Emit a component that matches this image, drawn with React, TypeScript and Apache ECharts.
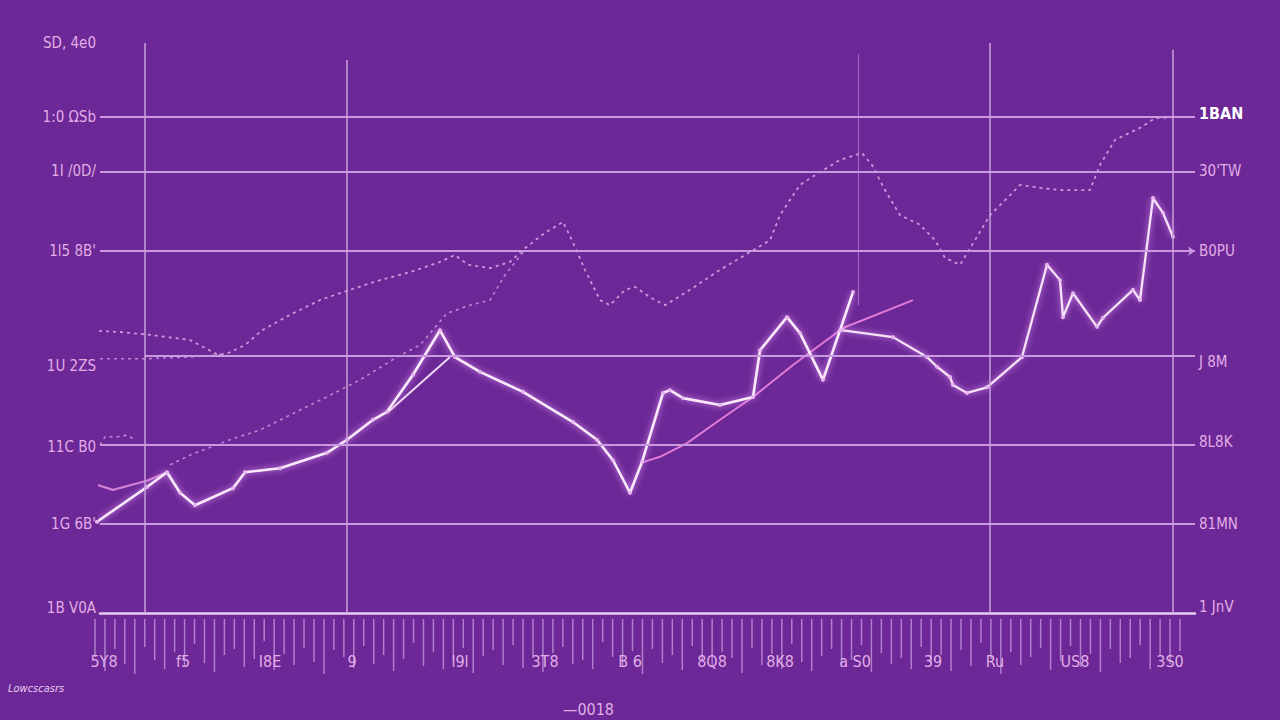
import React, { useEffect, useRef } from "react";
import * as echarts from "echarts";

// ---- axis ticks / labels ----
const yLeftValues = [100, 87, 77.5, 63.5, 43.3, 29.2, 15.6, 0.9];
const yLeftLabels = ["SD, 4e0", "1:0 ΩSb", "1I /0D/", "1l5 8B'", "1U 2ZS", "11C B0", "1G 6B'", "1B V0A"];
const yRightValues = [87.7, 77.5, 63.5, 44.0, 30.0, 15.6, 1.0];
const yRightLabels = ["1BAN", "30'TW", "B0PU", "J 8M", "8L8K", "81MN", "1 JnV"];
const xTickValues = [0.8, 16.6, 34, 50.4, 72, 89, 106, 122.4, 136, 151, 166.6, 179, 195, 214];
const xTickLabels = ["5Y8", "f5", "I8E", "9", "l9l", "3T8", "B 6", "8Q8", "8K8", "a S0", "39", "Ru", "US8", "3S0"];
const gridLevels = [87, 77.5, 63.5, 45.1, 29.5, 15.6];
const gridStarts = [0, 0, 0, 9, 0, 0];
const verticalLines = [9, 49.4, 178, 214.6];
const verticalTops = [100, 97, 100, 98.8];

// ---- series values [x, y] ----
const upperTrend: [number, number][] = [
  [-3, 49.6], [4, 49.3], [10, 48.8], [18, 47.9], [21, 46.5], [23.6, 45.3], [25.6, 45.6], [29, 47.0],
  [32.4, 49.6], [38, 52.3], [44, 54.9], [50, 56.7], [56, 58.4], [62, 59.8], [68, 61.6], [71, 62.8],
  [73.6, 61.1], [78, 60.5], [82, 61.6], [85, 64.0], [89, 66.7], [92.6, 68.6], [94.4, 65.4], [97, 60.2],
  [100, 54.9], [102, 54.0], [105, 56.7], [107, 57.2], [110, 55.4], [113, 54.0], [118, 56.7], [124, 60.2],
  [129, 62.8], [134, 65.4], [136, 69.8], [140, 75.1], [143, 76.8], [148, 79.5], [152.4, 80.7], [154.4, 78.6],
  [157, 74.2], [160, 69.8], [164, 68.1], [167, 65.4], [169, 62.3], [172, 61.1], [175, 65.4], [178, 69.8],
  [182, 73.3], [184, 75.1], [188, 74.6], [192, 74.2], [198, 74.2], [200, 78.6], [203, 83.0], [208, 85.1],
  [211, 86.8], [215, 87.0],
];
const lowerTrend: [number, number][] = [
  [14, 26.0], [18, 27.7], [26, 30.4], [32, 32.1], [40, 35.6], [46, 38.2], [52, 40.9], [59.4, 44.9],
  [64, 47.0], [69.4, 52.6], [74, 54.0], [78, 54.9], [81, 59.3], [84.6, 63.3],
];
const stubA: [number, number][] = [[0, 44.6], [9, 44.6], [18, 44.9], [25, 45.4]];
const stubB: [number, number][] = [[0, 29.5], [1, 30.9], [3.4, 30.9], [5.4, 31.2], [7, 30.4]];
const mainLine: [number, number][] = [
  [-0.6, 16.0], [9.4, 22.1], [13.4, 24.7], [16, 21.1], [19, 18.9], [26.6, 21.9], [29, 24.7], [36, 25.4],
  [45.4, 28.1], [49.4, 30.4], [54.6, 33.9], [57.4, 35.3], [62.6, 41.8], [68, 49.6], [71, 44.9], [76, 42.3],
  [84.6, 38.8], [94.6, 33.5], [99.4, 30.4], [102.6, 26.8], [106, 21.1], [108.4, 26.5], [112.6, 38.6], [114, 39.1],
  [116.6, 37.7], [124, 36.5], [130.6, 37.9], [132, 46.1], [137.4, 51.9], [140, 49.1], [144.6, 40.9], [148, 49.6],
  [150.6, 56.3],
];
const rightLine: [number, number][] = [
  [148.6, 49.6], [158.6, 48.4], [165.4, 44.9], [167.4, 43.2], [170, 41.4], [170.6, 40.0], [173.4, 38.6],
  [177.4, 39.6], [184.4, 44.9], [189.4, 61.1], [192, 58.4], [192.6, 51.9], [194.6, 56.1], [199.4, 50.2],
  [200.6, 51.8], [206.6, 56.7], [208, 54.9], [210.6, 72.8], [212.6, 70.2], [214.6, 66.0],
];
const pinkA: [number, number][] = [[-0.6, 22.5], [2.6, 21.6], [9.4, 23.2], [13.4, 24.7]];
const pinkB: [number, number][] = [[57.4, 35.1], [70, 44.9]];
const pinkC: [number, number][] = [
  [108, 26.3], [112, 27.4], [117.4, 29.8], [124, 33.9], [130.6, 37.9], [138.6, 43.5], [148.6, 50.0], [162.6, 54.9],
];
const volumeTicks = [
  38, 52, 30, 45, 55, 28, 41, 50, 33, 47, 25, 44, 53, 36, 30, 48, 40, 22, 51, 35,
  46, 29, 43, 55, 31, 38, 49, 27, 45, 36, 52, 40, 24, 47, 33, 50, 42, 29, 54, 37,
  31, 46, 26, 49, 39, 53, 34, 28, 45, 41, 50, 23, 38, 47, 32, 55, 30, 44, 36, 51,
  27, 42, 48, 33, 39, 54, 29, 46, 35, 50, 25, 43, 52, 37, 30, 48, 41, 26, 53, 34,
  45, 39, 50, 28, 44, 36, 52, 31, 47, 24, 40, 55, 33, 46, 38, 29, 51, 42, 27, 48,
  35, 53, 30, 44, 39, 26, 50, 37, 45, 32,
];

const FONT = "'DejaVu Sans Condensed', 'DejaVu Sans', sans-serif";
const LABEL = "#e2aee6";

function nearestLabel(v: number, vals: number[], labels: string[]) {
  let bi = 0;
  let bd = Infinity;
  vals.forEach((x, i) => {
    const d = Math.abs(x - v);
    if (d < bd) { bd = d; bi = i; }
  });
  return labels[bi];
}

export default function App() {
  const ref = useRef<HTMLDivElement>(null);
  useEffect(() => {
    document.body.style.margin = "0";
    document.body.style.background = "#6b2896";
    const chart = echarts.init(ref.current!, undefined, { renderer: "svg" });
    const dashed = (data: [number, number][], color: string, width = 1.8) => ({
      type: "line", data, xAxisIndex: 0, yAxisIndex: 0, symbol: "none", clip: false, silent: true,
      lineStyle: { color, width, type: [3, 4], opacity: 0.9 },
    });
    const solid = (data: [number, number][], color: string, width: number, dots: boolean, glow: boolean) => ({
      type: "line", data, xAxisIndex: 0, yAxisIndex: 0, clip: false, silent: true,
      symbol: dots ? "circle" : "none", symbolSize: 4, showSymbol: dots,
      itemStyle: { color: "#e7b6f0", borderWidth: 0 },
      lineStyle: glow ? { color, width, shadowColor: "rgba(240,160,255,0.9)", shadowBlur: 6 } : { color, width },
    });
    chart.setOption({
      animation: false,
      backgroundColor: "#6b2896",
      title: [
        { text: "—0018", left: 563, top: 701, padding: 0, textStyle: { color: LABEL, fontSize: 16, fontWeight: "normal", fontFamily: FONT } },
        { text: "Lowcscasrs", left: 8, top: 683, padding: 0, textStyle: { color: "#e9c8f0", fontSize: 11, fontWeight: "normal", fontStyle: "italic", fontFamily: FONT } },
      ],
      grid: [
        { left: 100, right: 85, top: 43, bottom: 107 },
        { left: 90, right: 95, top: 619, height: 68 },
      ],
      xAxis: [
        {
          type: "value", gridIndex: 0, min: 0, max: 219,
          axisLine: { show: true, lineStyle: { color: "#e8cdf2", width: 2.5 } },
          axisTick: { show: false }, splitLine: { show: false },
          axisLabel: {
            customValues: xTickValues, margin: 40, color: LABEL, fontSize: 16, fontFamily: FONT,
            formatter: (v: number) => nearestLabel(v, xTickValues, xTickLabels),
          },
        },
        { type: "category", gridIndex: 1, data: volumeTicks.map((_, i) => i), show: false },
      ],
      yAxis: [
        {
          type: "value", gridIndex: 0, min: 0, max: 100, position: "left",
          axisLine: { show: false }, axisTick: { show: false }, splitLine: { show: false },
          axisLabel: {
            customValues: yLeftValues, margin: 4, color: LABEL, fontSize: 15, fontFamily: FONT,
            formatter: (v: number) => nearestLabel(v, yLeftValues, yLeftLabels),
          },
        },
        {
          type: "value", gridIndex: 0, min: 0, max: 100, position: "right",
          axisLine: { show: false }, axisTick: { show: false }, splitLine: { show: false },
          axisLabel: {
            customValues: yRightValues, margin: 4, color: LABEL, fontSize: 15, fontFamily: FONT,
            formatter: (v: number) => {
              const s = nearestLabel(v, yRightValues, yRightLabels);
              return s === yRightLabels[0] ? "{b|" + s + "}" : s;
            },
            rich: { b: { color: "#ffffff", fontWeight: "bold", fontSize: 16, fontFamily: FONT } },
          },
        },
        { type: "value", gridIndex: 1, min: 0, max: 68, inverse: true, show: false },
      ],
      series: [
        {
          ...dashed(upperTrend, "#d9a2e6", 1.8),
          markLine: {
            silent: true, symbol: "none", label: { show: false },
            lineStyle: { color: "#c99ae0", width: 2, type: "solid" },
            data: [
              ...gridLevels.map((v, i) => {
                const arrow = v === 63.5;
                return [
                  { coord: [gridStarts[i], v], symbol: "none" },
                  { coord: [219, v], symbol: arrow ? "arrow" : "none", symbolSize: 7 },
                ];
              }),
              ...verticalLines.map((x, i) => [
                { coord: [x, verticalTops[i]], lineStyle: { color: "#c7a2dc", width: 1.5 } },
                { coord: [x, 0] },
              ]),
              [
                { coord: [151.6, 98], lineStyle: { color: "#b987d2", width: 1, opacity: 0.7 } },
                { coord: [151.6, 54] },
              ],
            ],
          },
        },
        dashed(lowerTrend, "#c890da", 1.6),
        dashed(stubA, "#c890da", 1.5),
        dashed(stubB, "#d8a4e4", 1.3),
        solid(pinkA, "#d27fd6", 2.2, false, false),
        solid(pinkB, "#f2d6f6", 2, false, false),
        solid(pinkC, "#e27ad8", 2, false, false),
        solid(mainLine, "#fbeafb", 2.6, true, true),
        solid(rightLine, "#f8e2f8", 2.3, true, true),
        {
          type: "bar", xAxisIndex: 1, yAxisIndex: 2, data: volumeTicks, barWidth: 1.5, silent: true,
          itemStyle: { color: "rgba(224,184,240,0.6)" },
        },
      ],
    });
    return () => chart.dispose();
  }, []);
  return <div ref={ref} style={{ width: 1280, height: 720 }} />;
}
